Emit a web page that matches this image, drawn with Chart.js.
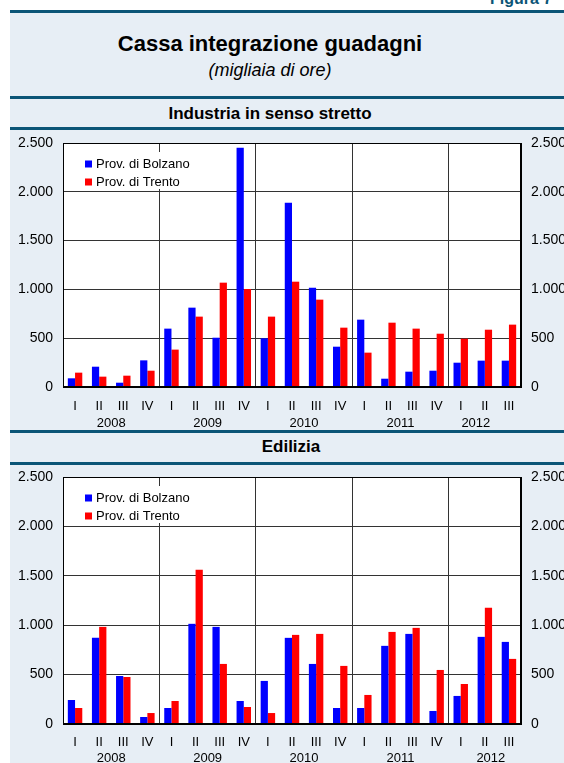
<!DOCTYPE html>
<html>
<head>
<meta charset="utf-8">
<script src="https://cdn.jsdelivr.net/npm/chart.js@4/dist/chart.umd.min.js"></script>
<style>
  html, body { margin: 0; padding: 0; background: #fff; }
  body { width: 564px; height: 763px; position: relative; overflow: hidden;
         font-family: "Liberation Sans", Arial, sans-serif; color: #000; }
  .panel { position: absolute; left: 10px; top: 12px; width: 554px; height: 751px; background: #e7eef5; }
  .rule  { position: absolute; left: 10px; width: 554px; height: 2.5px; background: #0b5577; }
  .txt   { position: absolute; white-space: nowrap; text-align: center; }
  canvas { position: absolute; left: 0; }
</style>
</head>
<body>
<div class="panel"></div>
<div class="txt" style="left:490px; top:-9px; font-size:16px; line-height:16px; font-weight:bold; color:#0b5577; text-align:left;">Figura 7</div>
<div class="rule" style="top:10px;"></div>
<div class="txt" style="left:0; width:540px; top:33px; font-size:22px; line-height:22px; font-weight:bold;">Cassa integrazione guadagni</div>
<div class="txt" style="left:0; width:540px; top:61px; font-size:18px; line-height:18px; font-style:italic;">(migliaia di ore)</div>
<div class="rule" style="top:96px;"></div>
<div class="txt" style="left:0; width:540px; top:104.5px; font-size:17px; line-height:17px; font-weight:bold;">Industria in senso stretto</div>
<div class="rule" style="top:127px;"></div>
<div class="rule" style="top:430px;"></div>
<div class="txt" style="left:0; width:582px; top:438px; font-size:17px; line-height:17px; font-weight:bold;">Edilizia</div>
<div class="rule" style="top:462px;"></div>

<canvas id="chartInd" width="564" height="300" style="top:130px; width:564px; height:300px;"></canvas>
<canvas id="chartEd" width="564" height="299" style="top:464px; width:564px; height:299px;"></canvas>

<script>
"use strict";

// ── Dati (migliaia di ore) ──
const quarters = ["I","II","III","IV","I","II","III","IV","I","II","III","IV","I","II","III","IV","I","II","III"];
const years    = ["2008","2009","2010","2011","2012"];
const yearStart = [0, 4, 8, 12, 16];
const yearEnd   = [3, 7, 11, 15, 18];
const yTicks   = [0, 500, 1000, 1500, 2000, 2500];
const seriesNames = ["Prov. di Bolzano", "Prov. di Trento"];

// Industria in senso stretto
const bolzanoInd = [89, 208, 44, 273, 598, 813, 505, 2452, 499, 1889, 1018, 413, 690, 85, 157, 167, 249, 270, 270];
const trentoInd  = [147, 106, 116, 167, 383, 721, 1069, 1004, 721, 1079, 895, 608, 352, 659, 598, 546, 495, 587, 639];

// Edilizia
const bolzanoEd = [243, 872, 486, 71, 162, 1014, 983, 233, 436, 872, 608, 162, 162, 791, 912, 132, 284, 882, 831];
const trentoEd  = [162, 983, 476, 111, 233, 1561, 608, 172, 111, 902, 912, 588, 294, 932, 973, 547, 405, 1176, 659];

const BLUE = "#0000ff", RED = "#ff0000";
const FONT = "'Liberation Sans', Arial, sans-serif";

function fmtDot(v) {
    return String(v).replace(/\B(?=(\d{3})+(?!\d))/g, ".");
}

// fondo bianco + cornice
const plotFrame = {
    id: "plotFrame",
    beforeDraw(chart) {
        const { ctx, chartArea: a } = chart;
        ctx.save();
        ctx.fillStyle = "#fff";
        ctx.fillRect(a.left, a.top, a.right - a.left, a.bottom - a.top);
        ctx.restore();
    },
    afterDraw(chart) {
        const { ctx, chartArea: a } = chart;
        ctx.save();
        ctx.strokeStyle = "#000";
        ctx.lineWidth = 1;
        ctx.strokeRect(Math.round(a.left) + 0.5, Math.round(a.top) + 0.5,
                       Math.round(a.right - a.left) - 1, Math.round(a.bottom - a.top) - 1);
        ctx.restore();
    }
};

// legenda dentro il grafico
const innerLegend = {
    id: "innerLegend",
    afterDatasetsDraw(chart) {
        const { ctx, chartArea: a } = chart;
        ctx.save();
        ctx.fillStyle = "#fff";
        ctx.fillRect(a.left + 10, a.top + 9, 160, 37);
        ctx.font = "13px " + FONT;
        ctx.textBaseline = "middle";
        chart.data.datasets.forEach((ds, i) => {
            const y = a.top + 21 + i * 18;
            ctx.fillStyle = ds.backgroundColor;
            ctx.fillRect(a.left + 22, y - 3.5, 7, 7);
            ctx.fillStyle = "#000";
            ctx.fillText(ds.label, a.left + 33, y + 0.5);
        });
        ctx.restore();
    }
};

// etichette degli anni
const yearLabels = {
    id: "yearLabels",
    afterDraw(chart, args, opts) {
        const { ctx, chartArea: a } = chart;
        const x = chart.scales.x;
        ctx.save();
        ctx.font = "13px " + FONT;
        ctx.fillStyle = "#000";
        ctx.textAlign = "center";
        ctx.textBaseline = "middle";
        years.forEach((yr, i) => {
            const cx = (x.getPixelForValue(yearStart[i]) + x.getPixelForValue(yearEnd[i])) / 2;
            ctx.fillText(yr, cx + (i === years.length - 1 ? opts.shift : 0), a.bottom + opts.dy);
        });
        ctx.restore();
    }
};

function fitY(width) {
    return s => { s.width = width; s.paddingTop = 0; s.paddingBottom = 0; };
}

function makeChart(id, bolzano, trento, xHeight, yearDy, tickPad, lastShift) {
    return new Chart(document.getElementById(id), {
        type: "bar",
        data: {
            labels: quarters,
            datasets: [
                { label: seriesNames[0], data: bolzano, backgroundColor: BLUE, borderWidth: 0 },
                { label: seriesNames[1], data: trento,  backgroundColor: RED,  borderWidth: 0 }
            ]
        },
        options: {
            responsive: false,
            animation: false,
            devicePixelRatio: 1,
            layout: { padding: { top: 13, left: 0, right: 0, bottom: 0 } },
            datasets: { bar: { categoryPercentage: 0.6, barPercentage: 1.0 } },
            plugins: {
                legend: { display: false },
                tooltip: { enabled: false },
                yearLabels: { dy: yearDy, shift: lastShift }
            },
            scales: {
                x: {
                    offset: true,
                    grid: {
                        offset: true,
                        drawTicks: false,
                        color: c => [4, 8, 12, 16].includes(c.index) ? "#333" : "rgba(0,0,0,0)",
                        lineWidth: 1
                    },
                    border: { display: true, color: "#000", width: 1 },
                    ticks: { color: "#000", font: { family: FONT, size: 13 }, padding: tickPad,
                             autoSkip: false, maxRotation: 0 },
                    afterFit: s => { s.height = xHeight; s.paddingLeft = 0; s.paddingRight = 0; }
                },
                y: {
                    position: "left",
                    min: 0, max: 2500,
                    afterBuildTicks: s => { s.ticks = yTicks.map(v => ({ value: v })); },
                    grid: { color: "#333", lineWidth: 1, drawTicks: false },
                    border: { display: true, color: "#000", width: 1 },
                    ticks: { color: "#000", font: { family: FONT, size: 14 }, padding: 10,
                             callback: v => fmtDot(v) },
                    afterFit: fitY(63)
                },
                y2: {
                    position: "right",
                    min: 0, max: 2500,
                    afterBuildTicks: s => { s.ticks = yTicks.map(v => ({ value: v })); },
                    grid: { display: false, drawTicks: false },
                    border: { display: true, color: "#000", width: 1 },
                    ticks: { color: "#000", font: { family: FONT, size: 14 }, padding: 10,
                             callback: v => fmtDot(v) },
                    afterFit: fitY(43)
                }
            }
        },
        plugins: [plotFrame, innerLegend, yearLabels]
    });
}

makeChart("chartInd", bolzanoInd, trentoInd, 43, 36, 12, -9);
makeChart("chartEd",  bolzanoEd,  trentoEd,  39, 34, 11, 6);
</script>
</body>
</html>
